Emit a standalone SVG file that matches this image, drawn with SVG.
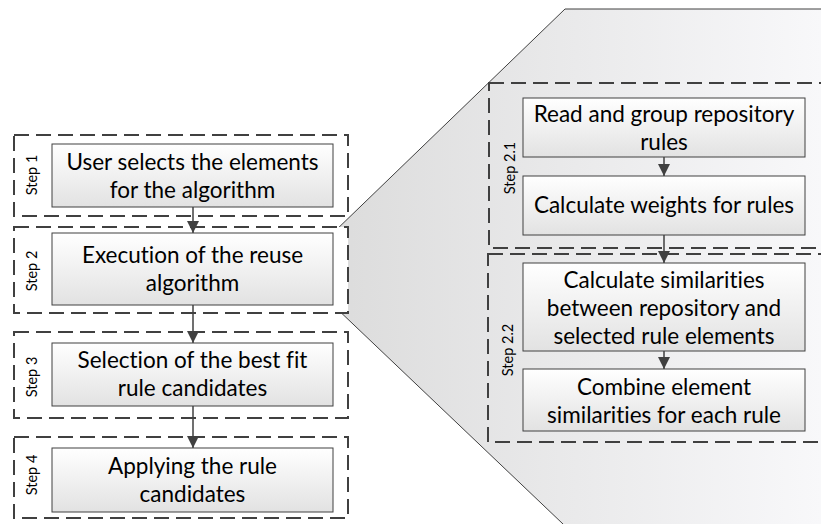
<svg xmlns="http://www.w3.org/2000/svg" width="821" height="524" viewBox="0 0 821 524">
  <defs>
    <linearGradient id="boxFill" x1="0" y1="0" x2="0" y2="1">
      <stop offset="0" stop-color="#ffffff"/>
      <stop offset="1" stop-color="#e2e2e2"/>
    </linearGradient>
    <linearGradient id="panelFill" gradientUnits="userSpaceOnUse" x1="333" y1="0" x2="821" y2="0">
      <stop offset="0" stop-color="#dcdcdc"/>
      <stop offset="1" stop-color="#f8f8fa"/>
    </linearGradient>
    <marker id="arrow" viewBox="0 0 12 12" refX="12" refY="6" markerWidth="12" markerHeight="12" markerUnits="userSpaceOnUse" orient="auto">
      <path d="M0,0 L12,6 L0,12 Z" fill="#404040"/>
    </marker>
  </defs>
  <style>
    .group { fill: none; stroke: #404040; stroke-width: 2; stroke-dasharray: 15 7; }
    .group-left { fill: #ffffff; }
    .box { fill: url(#boxFill); stroke: #404040; stroke-width: 1; }
    .txt { font-family: Lato, "Liberation Sans", sans-serif; font-size: 22.5px; fill: #000000; text-anchor: middle; font-variant-ligatures: none; }
    .lbl { font-family: Lato, "Liberation Sans", sans-serif; font-size: 14.5px; fill: #000000; text-anchor: middle; }
    .conn { stroke: #404040; stroke-width: 1.5; fill: none; marker-end: url(#arrow); }
  </style>

  <rect width="821" height="524" fill="#ffffff"/>

  <!-- detail panel expanding step 2 -->
  <path id="detail-panel" d="M333,233 L565,9 L830,9 L830,534 L573.5,534 L333,305 Z" fill="url(#panelFill)" stroke="#404040" stroke-width="1"/>

  <!-- step containers, left column -->
  <g id="step1">
    <rect class="group group-left" x="14" y="135" width="334" height="81"/>
    <text class="lbl" transform="translate(37,175) rotate(-90)">Step 1</text>
  </g>
  <g id="step2">
    <rect class="group group-left" x="14" y="227" width="334" height="86"/>
    <text class="lbl" transform="translate(37,271) rotate(-90)">Step 2</text>
  </g>
  <g id="step3">
    <rect class="group group-left" x="14" y="332" width="334" height="86"/>
    <text class="lbl" transform="translate(37,377) rotate(-90)">Step 3</text>
  </g>
  <g id="step4">
    <rect class="group group-left" x="14" y="437" width="334" height="81"/>
    <text class="lbl" transform="translate(37,475) rotate(-90)">Step 4</text>
  </g>

  <!-- step containers, detail panel -->
  <g id="step2-1">
    <rect class="group" x="489" y="83" width="345" height="165"/>
    <text class="lbl" transform="translate(515,168) rotate(-90)">Step 2.1</text>
  </g>
  <g id="step2-2">
    <rect class="group" x="488" y="254" width="346" height="188"/>
    <text class="lbl" transform="translate(513,350) rotate(-90)">Step 2.2</text>
  </g>

  <!-- process nodes -->
  <g id="select-elements">
    <rect class="box" x="52" y="144" width="281" height="63"/>
    <text class="txt" x="192.5" y="170">User selects the elements</text>
    <text class="txt" x="192.5" y="198">for the algorithm</text>
  </g>
  <g id="execute-algorithm">
    <rect class="box" x="52" y="233" width="281" height="72"/>
    <text class="txt" x="192.5" y="263">Execution of the reuse</text>
    <text class="txt" x="192.5" y="291">algorithm</text>
  </g>
  <g id="select-candidates">
    <rect class="box" x="52" y="343" width="281" height="63"/>
    <text class="txt" x="192.5" y="368">Selection of the best fit</text>
    <text class="txt" x="192.5" y="396">rule candidates</text>
  </g>
  <g id="apply-candidates">
    <rect class="box" x="52" y="448" width="281" height="64"/>
    <text class="txt" x="192.5" y="474">Applying the rule</text>
    <text class="txt" x="192.5" y="502">candidates</text>
  </g>

  <g id="read-rules">
    <rect class="box" x="523" y="98" width="282" height="59"/>
    <text class="txt" x="664" y="122">Read and group repository</text>
    <text class="txt" x="664" y="150">rules</text>
  </g>
  <g id="calc-weights">
    <rect class="box" x="523" y="176" width="282" height="59"/>
    <text class="txt" x="664" y="213">Calculate weights for rules</text>
  </g>
  <g id="calc-similarities">
    <rect class="box" x="523" y="263" width="282" height="88"/>
    <text class="txt" x="664" y="288">Calculate similarities</text>
    <text class="txt" x="664" y="316">between repository and</text>
    <text class="txt" x="664" y="344">selected rule elements</text>
  </g>
  <g id="combine-similarities">
    <rect class="box" x="523" y="369" width="282" height="62"/>
    <text class="txt" x="664" y="395">Combine element</text>
    <text class="txt" x="664" y="423">similarities for each rule</text>
  </g>

  <!-- connectors -->
  <g id="connectors">
    <line class="conn" x1="193" y1="207" x2="193" y2="233"/>
    <line class="conn" x1="193" y1="305" x2="193" y2="343"/>
    <line class="conn" x1="193" y1="406" x2="193" y2="448"/>
    <line class="conn" x1="664" y1="157" x2="664" y2="176"/>
    <line class="conn" x1="664" y1="235" x2="664" y2="263"/>
    <line class="conn" x1="664" y1="351" x2="664" y2="369"/>
  </g>
</svg>
